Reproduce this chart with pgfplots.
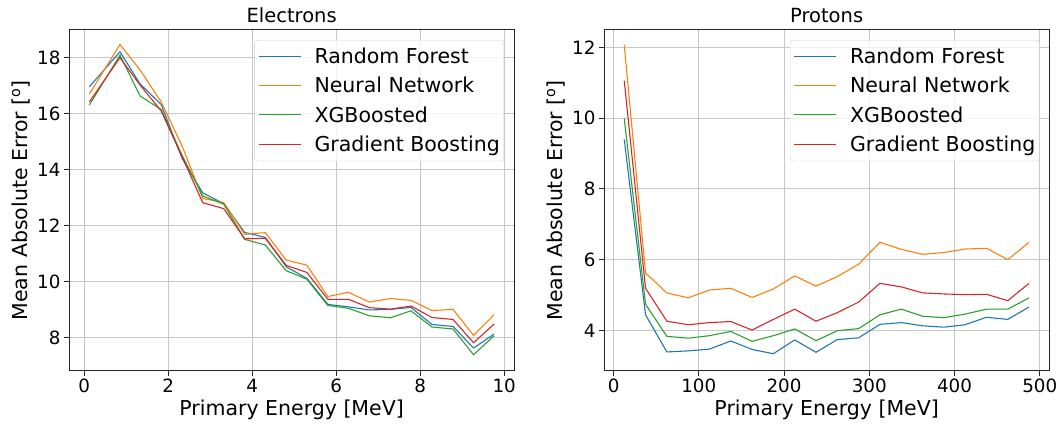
\documentclass[border=0pt]{standalone}
\usepackage{fontspec}
\setmainfont{DejaVu Sans}
\usepackage{pgfplots}
\pgfplotsset{compat=1.18}
\definecolor{cA}{HTML}{1F77B4}
\definecolor{cB}{HTML}{FF7F0E}
\definecolor{cC}{HTML}{2CA02C}
\definecolor{cD}{HTML}{D62728}
\newcommand{\ls}{\vphantom{Bgy}}
\newcommand{\smp}[1]{\textcolor{#1}{\rule[0.33em]{42pt}{1.1pt}}\hspace{14pt}}
\pgfplotsset{myax/.style={
  scale only axis, width=445.3pt, height=341pt,
  grid=major, grid style={color=black!22, line width=0.8pt},
  axis line style={line width=0.8pt, black!85},
  tick align=outside, xtick pos=left, ytick pos=left,
  major tick length=5pt, tick style={black!85, line width=0.8pt},
  tick label style={font=\fontsize{18.3}{22}\selectfont},
  /pgf/number format/assume math mode=true,
  label style={font=\fontsize{20.5}{24}\selectfont},
  title style={font=\fontsize{19.5}{23}\selectfont, yshift=-3pt},
  ylabel={Mean Absolute Error [\textsuperscript{o}]},
  xlabel={Primary Energy [MeV]},
  every axis plot/.append style={line width=1.1pt},
  legend image code/.code={},
  legend style={anchor=north east, draw=black!20, rounded corners=3pt,
    fill=white, fill opacity=0.8, text opacity=1,
    font=\fontsize{20.5}{24}\selectfont,
    inner xsep=2pt, inner ysep=6pt, row sep=8.2pt,
    cells={anchor=west}},
}}
\begin{document}
\begin{tikzpicture}
\begin{axis}[myax, at={(0pt,0pt)}, anchor=south west,
  title={Electrons},
  xmin=-0.364, xmax=10.24, ymin=6.81, ymax=18.99,
  xtick={0,2,...,10}, ytick={8,10,...,18},
  legend style={at={(rel axis cs:0.977,0.970)}}]
\addplot[cA] coordinates {(0.12,16.95) (0.85,18.2) (1.33,17.05) (1.83,16.32) (2.33,14.39) (2.82,13.16) (3.32,12.78) (3.82,11.75) (4.31,11.57) (4.81,10.52) (5.30,10.11) (5.80,9.18) (6.29,9.09) (6.79,8.98) (7.29,9.0) (7.78,9.07) (8.28,8.46) (8.78,8.39) (9.27,7.62) (9.76,8.12)};
\addlegendentry{\smp{cA}Random Forest\ls}
\addplot[cB] coordinates {(0.12,16.69) (0.85,18.46) (1.33,17.55) (1.83,16.41) (2.33,14.83) (2.82,12.96) (3.32,12.82) (3.82,11.68) (4.31,11.74) (4.81,10.76) (5.30,10.58) (5.80,9.46) (6.29,9.61) (6.79,9.26) (7.29,9.39) (7.78,9.32) (8.28,8.96) (8.78,9.0) (9.27,8.07) (9.76,8.81)};
\addlegendentry{\smp{cB}Neural Network\ls}
\addplot[cC] coordinates {(0.12,16.30) (0.85,18.08) (1.33,16.62) (1.83,16.14) (2.33,14.5) (2.82,13.05) (3.32,12.76) (3.82,11.50) (4.31,11.30) (4.81,10.38) (5.30,10.08) (5.80,9.14) (6.29,9.04) (6.79,8.77) (7.29,8.70) (7.78,8.95) (8.28,8.37) (8.78,8.30) (9.27,7.38) (9.76,8.06)};
\addlegendentry{\smp{cC}XGBoosted\ls}
\addplot[cD] coordinates {(0.12,16.41) (0.85,17.99) (1.33,17.01) (1.83,16.09) (2.33,14.45) (2.82,12.81) (3.32,12.6) (3.82,11.52) (4.31,11.54) (4.81,10.57) (5.30,10.32) (5.80,9.36) (6.29,9.36) (6.79,9.06) (7.29,9.01) (7.78,9.12) (8.28,8.71) (8.78,8.64) (9.27,7.81) (9.76,8.48)};
\addlegendentry{\smp{cD}Gradient Boosting\ls}
\end{axis}
\begin{axis}[myax, at={(535pt,0pt)}, anchor=south west,
  title={Protons},
  xmin=-11.25, xmax=511.25, ymin=2.86, ymax=12.50,
  xtick={0,100,...,500}, ytick={4,6,...,12},
  legend style={at={(rel axis cs:0.978,0.970)}}]
\addplot[cA] coordinates {(12.5,9.40) (37.5,4.44) (62.5,3.39) (87.5,3.42) (112.5,3.47) (137.5,3.70) (162.5,3.46) (187.5,3.34) (212.5,3.73) (237.5,3.38) (262.5,3.74) (287.5,3.79) (312.5,4.17) (337.5,4.22) (362.5,4.13) (387.5,4.09) (412.5,4.16) (437.5,4.37) (462.5,4.31) (487.5,4.66)};
\addlegendentry{\smp{cA}Random Forest\ls}
\addplot[cB] coordinates {(12.5,12.07) (37.5,5.62) (62.5,5.06) (87.5,4.92) (112.5,5.14) (137.5,5.19) (162.5,4.93) (187.5,5.17) (212.5,5.54) (237.5,5.25) (262.5,5.52) (287.5,5.87) (312.5,6.49) (337.5,6.29) (362.5,6.15) (387.5,6.20) (412.5,6.30) (437.5,6.32) (462.5,6.00) (487.5,6.49)};
\addlegendentry{\smp{cB}Neural Network\ls}
\addplot[cC] coordinates {(12.5,9.99) (37.5,4.74) (62.5,3.83) (87.5,3.78) (112.5,3.85) (137.5,3.97) (162.5,3.69) (187.5,3.85) (212.5,4.04) (237.5,3.71) (262.5,3.99) (287.5,4.05) (312.5,4.44) (337.5,4.60) (362.5,4.40) (387.5,4.36) (412.5,4.46) (437.5,4.60) (462.5,4.60) (487.5,4.92)};
\addlegendentry{\smp{cC}XGBoosted\ls}
\addplot[cD] coordinates {(12.5,11.06) (37.5,5.19) (62.5,4.26) (87.5,4.16) (112.5,4.22) (137.5,4.25) (162.5,4.01) (187.5,4.31) (212.5,4.60) (237.5,4.26) (262.5,4.50) (287.5,4.80) (312.5,5.33) (337.5,5.23) (362.5,5.06) (387.5,5.03) (412.5,5.01) (437.5,5.02) (462.5,4.84) (487.5,5.33)};
\addlegendentry{\smp{cD}Gradient Boosting\ls}
\end{axis}
\path (-69pt,-52.3pt) rectangle (993pt,370.7pt);
\end{tikzpicture}
\end{document}
